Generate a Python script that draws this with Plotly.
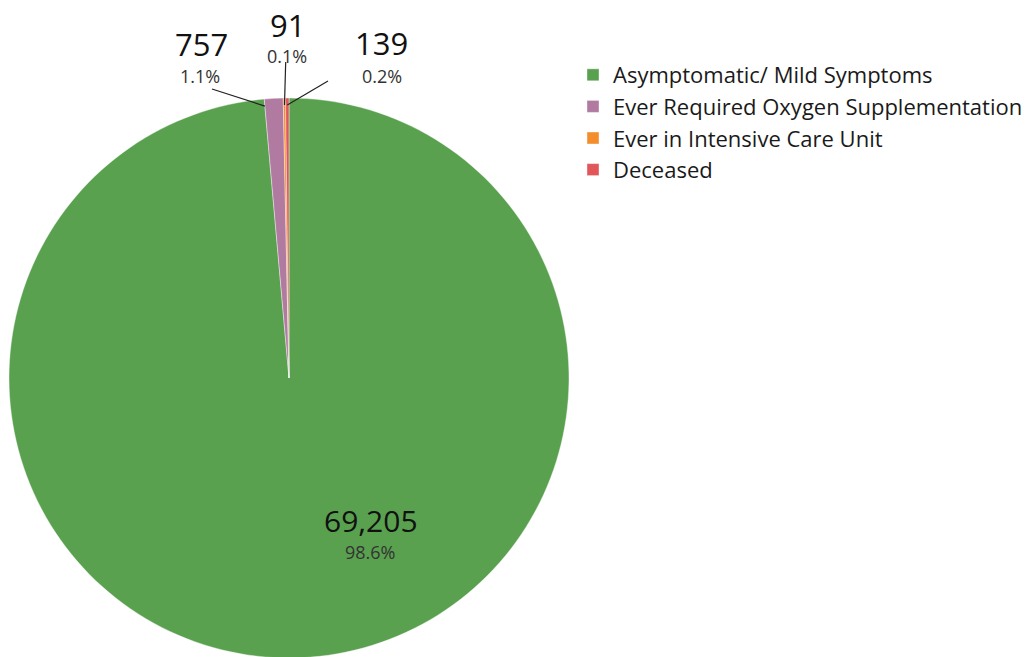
import math
import plotly.graph_objects as go

categories = ["Asymptomatic/ Mild Symptoms", "Ever Required Oxygen Supplementation",
              "Ever in Intensive Care Unit", "Deceased"]
values = [69205, 757, 91, 139]
colors = ["#59A14F", "#B07AA1", "#F28E2B", "#E15759"]

W, H = 1035, 657
OFF = 8                      # page body margin in the browser
CX, CY, R = 289, 378, 280    # pie geometry in screen pixels


def px(x, y):
    """screen pixel -> paper coords"""
    return (x - OFF) / W, 1 - (y - OFF) / H


total = sum(values)
pct = [v / total * 100 for v in values]

# slice angles (clockwise from 12 o'clock)
starts, mids = [], []
cum = 0
for v in values:
    starts.append(cum / total * 360)
    mids.append((cum + v / 2) / total * 360)
    cum += v

fig = go.Figure()
fig.add_trace(go.Pie(
    labels=categories,
    values=values,
    sort=False,
    direction="clockwise",
    rotation=0,
    marker=dict(colors=colors, line=dict(color="white", width=0.4)),
    textinfo="none",
    hoverinfo="label+value+percent",
    domain=dict(x=[px(CX - R, 0)[0], px(CX + R, 0)[0]],
                y=[px(0, CY + R)[1], px(0, CY - R)[1]]),
    showlegend=True,
))

# label layout: (value centre, percent centre) in screen pixels, and leader anchor
label_pos = {
    0: ((371, 520), (370, 552)),
    1: ((201, 44), (200, 76)),
    2: ((287, 25), (287, 56)),
    3: ((381, 43), (382, 76)),
}
line_start = {1: (212, 89), 2: (285.7, 62), 3: (328, 81)}
anchor_angle = {1: starts[1], 2: mids[2], 3: mids[3]}

annotations = []
shapes = []
for i, ((vx, vy), (qx, qy)) in label_pos.items():
    size_v = 30 if i == 0 else 31
    x, y = px(vx, vy)
    annotations.append(dict(x=x, y=y, xref="paper", yref="paper", text=f"{values[i]:,}",
                            showarrow=False, font=dict(family="Open Sans", size=size_v, color="#111"),
                            xanchor="center", yanchor="middle", borderpad=0))
    x, y = px(qx, qy)
    annotations.append(dict(x=x, y=y, xref="paper", yref="paper", text=f"{pct[i]:.1f}%",
                            showarrow=False, font=dict(family="Open Sans", size=18, color="#333"),
                            xanchor="center", yanchor="middle"))

for i, (sx, sy) in line_start.items():
    a = math.radians(anchor_angle[i])
    rr = R - 7
    ex = CX + rr * math.sin(a)
    ey = CY - rr * math.cos(a)
    x0, y0 = px(sx, sy)
    x1, y1 = px(ex, ey)
    shapes.append(dict(type="line", xref="paper", yref="paper", x0=x0, y0=y0, x1=x1, y1=y1,
                       line=dict(color="#222", width=1.2)))

lx, ly = px(613 - 40, 54)
fig.update_layout(
    width=W, height=H,
    margin=dict(l=0, r=0, t=0, b=0),
    paper_bgcolor="white",
    plot_bgcolor="white",
    font=dict(family="Open Sans", color="#222"),
    legend=dict(x=lx, y=ly, xanchor="left", yanchor="top",
                font=dict(size=22, family="Open Sans", color="#1a1a1a")),
    annotations=annotations,
    shapes=shapes,
)

fig.write_html("out.html")
